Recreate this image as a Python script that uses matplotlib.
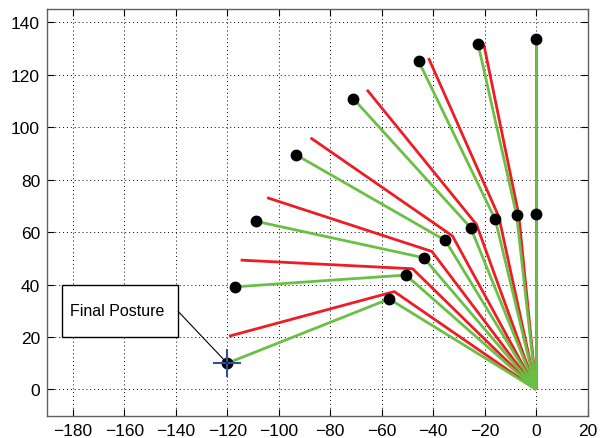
import matplotlib
matplotlib.use("Agg")
import matplotlib.pyplot as plt
from matplotlib.patches import Rectangle

plt.rcParams['font.family'] = ['Liberation Sans', 'DejaVu Sans']

# Actual postures (green): elbow and end-effector positions
green_elbow_x = [0, -7.6, -15.9, -25.4, -35.3, -43.7, -50.6, -57.1]
green_elbow_y = [66.8, 66.4, 64.8, 61.6, 56.8, 50.2, 43.6, 34.5]
green_end_x = [0, -22.6, -45.6, -71.0, -93.4, -108.9, -117.1, -120.0]
green_end_y = [133.6, 131.8, 125.0, 110.8, 89.5, 64.1, 39.1, 10.0]

# Reference postures (red)
red_elbow_x = [0, -6.8, -14.5, -23.2, -32.5, -40.5, -48.0, -55.1]
red_elbow_y = [66.8, 66.7, 65.8, 62.9, 58.5, 52.6, 46.0, 37.3]
red_end_x = [0, -20.4, -41.8, -65.7, -87.6, -104.5, -114.8, -119.3]
red_end_y = [133.6, 131.8, 126.3, 114.2, 95.9, 73.1, 49.3, 20.3]

base_x, base_y = 0, 0
final_x, final_y = -120, 10
annot_text = "Final Posture"

x_ticks = [-180, -160, -140, -120, -100, -80, -60, -40, -20, 0, 20]
y_ticks = [0, 20, 40, 60, 80, 100, 120, 140]

fig = plt.figure(figsize=(6.03, 4.39), dpi=100)
ax = fig.add_axes([0.0779, 0.0508, 0.8967, 0.9264])

red = '#ee1c24'
green = '#6abf45'

for ex, ey, tx, ty in zip(red_elbow_x, red_elbow_y, red_end_x, red_end_y):
    ax.plot([base_x, ex, tx], [base_y, ey, ty], color=red, lw=2.0, solid_capstyle='butt', zorder=2)

for ex, ey, tx, ty in zip(green_elbow_x, green_elbow_y, green_end_x, green_end_y):
    ax.plot([base_x, ex, tx], [base_y, ey, ty], color=green, lw=2.0, solid_capstyle='butt', zorder=3)

ax.plot(green_elbow_x, green_elbow_y, 'o', color='black', ms=7.5, zorder=4, linestyle='none')
ax.plot(green_end_x, green_end_y, 'o', color='black', ms=7.5, zorder=4, linestyle='none')
ax.plot([final_x], [final_y], '+', color='#2f4f9f', ms=20, mew=1.5, zorder=5)

# Annotation box with leader line
box_x0, box_y0, box_w, box_h = -184, 20, 45, 20
ax.add_patch(Rectangle((box_x0, box_y0), box_w, box_h, fc='white', ec='black', lw=1.0, zorder=6))
ax.text(box_x0 + 2.8, box_y0 + box_h / 2, annot_text, ha='left', va='center', fontsize=11.5, zorder=7)
ax.plot([box_x0 + box_w, final_x], [box_y0 + 9.7, final_y], color='black', lw=0.8, zorder=6)

ax.set_xlim(-190, 20)
ax.set_ylim(-10, 145)
ax.set_xticks(x_ticks)
ax.set_yticks(y_ticks)
ax.tick_params(direction='in', top=True, right=True, length=5, labelsize=12.5, colors='black', width=0.8, pad=5)
ax.grid(True, linestyle=(0, (1, 3)), color='black', lw=0.7)
for sp in ax.spines.values():
    sp.set_color('#606060')
    sp.set_linewidth(1.0)

fig.savefig('out.png', dpi=100)
